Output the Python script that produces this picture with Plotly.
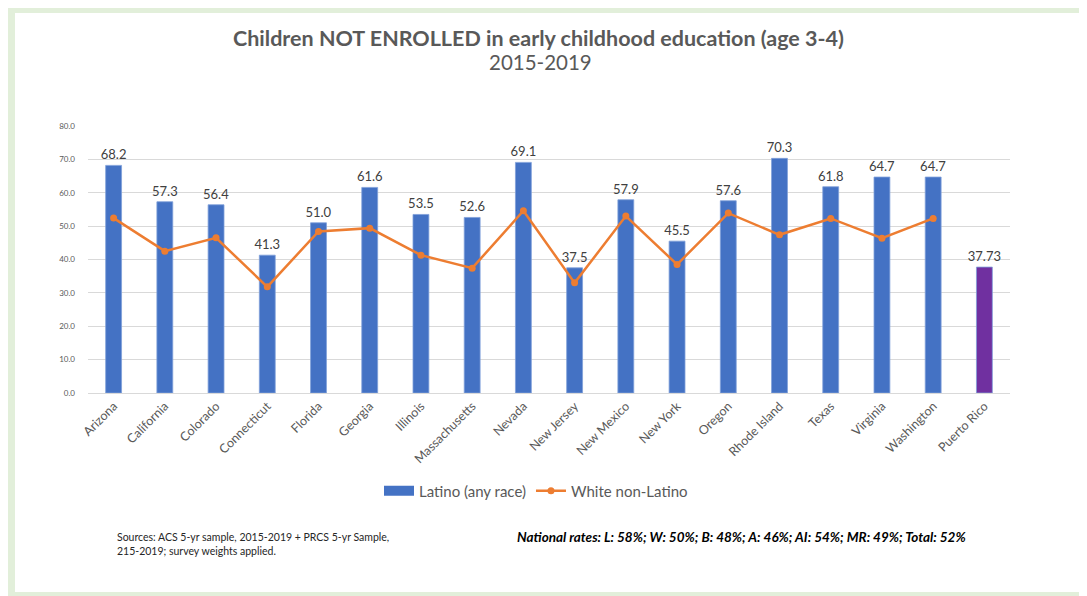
import plotly.graph_objects as go

states = ["Arizona", "California", "Colorado", "Connecticut", "Florida", "Georgia",
          "Illinois", "Massachusetts", "Nevada", "New Jersey", "New Mexico", "New York",
          "Oregon", "Rhode Island", "Texas", "Virginia", "Washington", "Puerto Rico"]
latino = [68.2, 57.3, 56.4, 41.3, 51.0, 61.6, 53.5, 52.6, 69.1, 37.5, 57.9, 45.5,
          57.6, 70.3, 61.8, 64.7, 64.7, 37.73]
latino_labels = ["68.2", "57.3", "56.4", "41.3", "51.0", "61.6", "53.5", "52.6", "69.1",
                 "37.5", "57.9", "45.5", "57.6", "70.3", "61.8", "64.7", "64.7", "37.73"]
white = [52.4, 42.5, 46.5, 31.8, 48.4, 49.4, 41.3, 37.4, 54.6, 33.0, 53.0, 38.5,
         53.9, 47.4, 52.3, 46.4, 52.3, None]
yticks = [0, 10, 20, 30, 40, 50, 60, 70, 80]

OFF = 8  # page body margin
W, H = 1087 - OFF, 596 - OFF
L, R, T, B = 88, 1010, 126, 393  # plot area in viewport pixels


def px_x(p):
    return (p - L) / (R - L)


def px_y(p):
    return (B - p) / (B - T)


FONT = "Lato, 'Open Sans', sans-serif"
GRAY = "#595959"
BLUE = "#4472c4"
bar_colors = [BLUE] * (len(states) - 1) + ["#7030a0"]

fig = go.Figure()
fig.add_trace(go.Bar(
    x=states, y=latino, name="Latino (any race)", showlegend=False,
    marker=dict(color=bar_colors, line=dict(color="#7f9fd9", width=0.8)),
    text=latino_labels, textposition="outside", textangle=0,
    textfont=dict(size=13, color="#404040", family=FONT),
    constraintext="none",
    cliponaxis=False,
))
# legend entry drawn as a wide blue block (like the original legend key)
fig.add_trace(go.Scatter(
    x=[None], y=[None], name="Latino (any race)", mode="lines",
    line=dict(color=BLUE, width=10),
))
fig.add_trace(go.Scatter(
    x=states, y=white, name="White non-Latino", mode="lines+markers",
    line=dict(color="#ed7d31", width=2.5),
    marker=dict(color="#ed7d31", size=7),
))

shapes = [
    dict(type="rect", xref="paper", yref="paper", layer="below",
         x0=px_x(7), x1=px_x(1100), y0=px_y(610), y1=px_y(5),
         fillcolor="#e2efda", line=dict(width=0)),
    dict(type="rect", xref="paper", yref="paper", layer="below",
         x0=px_x(15), x1=px_x(1082), y0=px_y(592), y1=px_y(13),
         fillcolor="white", line=dict(width=0)),
]

annotations = [
    dict(text="<b>Children NOT ENROLLED in early childhood education (age 3-4)</b>",
         xref="paper", yref="paper", x=px_x(538), y=px_y(38), showarrow=False,
         xanchor="center", yanchor="middle", font=dict(size=21.5, color=GRAY, family=FONT)),
    dict(text="2015-2019",
         xref="paper", yref="paper", x=px_x(540), y=px_y(62), showarrow=False,
         xanchor="center", yanchor="middle", font=dict(size=20.5, color=GRAY, family=FONT)),
    dict(text="Sources: ACS 5-yr sample, 2015-2019 + PRCS 5-yr Sample,<br>215-2019; survey weights applied.",
         xref="paper", yref="paper", x=px_x(115), y=px_y(529), showarrow=False,
         xanchor="left", yanchor="top", align="left",
         font=dict(size=10.5, color="#262626", family=FONT)),
    dict(text="<b><i>National rates: L: 58%; W: 50%; B: 48%; A: 46%; AI: 54%; MR: 49%; Total: 52%</i></b>",
         xref="paper", yref="paper", x=px_x(515), y=px_y(537), showarrow=False,
         xanchor="left", yanchor="middle",
         font=dict(size=13.5, color="#000000", family=FONT)),
]

fig.update_layout(
    width=W, height=H,
    margin=dict(l=L - OFF, r=W - (R - OFF), t=T - OFF, b=H - (B - OFF), pad=0, autoexpand=False),
    paper_bgcolor="white", plot_bgcolor="rgba(0,0,0,0)",
    font=dict(family=FONT, color=GRAY),
    bargap=0.69,
    showlegend=True,
    legend=dict(orientation="h", x=px_x(536), y=px_y(491), xanchor="center", yanchor="middle",
                font=dict(size=15, color=GRAY, family=FONT), bgcolor="rgba(0,0,0,0)",
                itemwidth=30, traceorder="normal"),
    shapes=shapes,
    annotations=annotations,
    yaxis=dict(range=[0, 80], tickvals=yticks, tickformat=".1f",
               showgrid=True, gridcolor="#d9d9d9", gridwidth=1,
               zeroline=False, showline=False, ticks="", automargin=False,
               tickfont=dict(size=8, color=GRAY, family=FONT), ticklabelstandoff=12),
    xaxis=dict(tickangle=-45, showline=True, linecolor="#d9d9d9", linewidth=1, ticks="",
               automargin=False, range=[-0.5, len(states) - 0.5],
               tickfont=dict(size=12.5, color=GRAY, family=FONT)),
)

fig.write_html("out.html")
